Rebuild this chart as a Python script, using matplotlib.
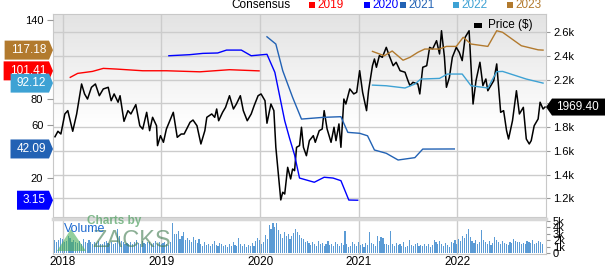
import numpy as np
import matplotlib.pyplot as plt
from matplotlib.patches import Polygon
from matplotlib.transforms import IdentityTransform
from matplotlib.ticker import FuncFormatter

plt.rcParams['font.family'] = ['Liberation Sans', 'DejaVu Sans']

# ---- price ($) ----
price_t = [2017.92, 2017.95, 2017.98, 2018.02, 2018.05, 2018.10, 2018.14, 2018.19, 2018.22, 2018.25,
           2018.29, 2018.33, 2018.37, 2018.41, 2018.46, 2018.49, 2018.52, 2018.56, 2018.58, 2018.62,
           2018.66, 2018.69, 2018.74, 2018.78, 2018.81, 2018.85, 2018.88, 2018.91, 2018.95, 2018.96,
           2018.99, 2019.02, 2019.05, 2019.10, 2019.12, 2019.16, 2019.20, 2019.23, 2019.29, 2019.32,
           2019.36, 2019.40, 2019.44, 2019.46, 2019.51, 2019.54, 2019.56, 2019.58, 2019.62, 2019.65,
           2019.69, 2019.73, 2019.76, 2019.80, 2019.83, 2019.87, 2019.91, 2019.94, 2019.98, 2020.01,
           2020.05, 2020.07, 2020.11, 2020.14, 2020.16, 2020.21, 2020.23, 2020.25, 2020.28, 2020.31,
           2020.33, 2020.35, 2020.37, 2020.40, 2020.42, 2020.44, 2020.47, 2020.50, 2020.54, 2020.56,
           2020.60, 2020.63, 2020.65, 2020.68, 2020.72, 2020.75, 2020.77, 2020.80, 2020.82, 2020.85,
           2020.87, 2020.91, 2020.95, 2020.98, 2021.01, 2021.04, 2021.08, 2021.10, 2021.14, 2021.16,
           2021.18, 2021.21, 2021.24, 2021.28, 2021.31, 2021.35, 2021.38, 2021.42, 2021.47, 2021.50,
           2021.52, 2021.55, 2021.60, 2021.62, 2021.65, 2021.69, 2021.72, 2021.75, 2021.79, 2021.82,
           2021.84, 2021.87, 2021.89, 2021.92, 2021.95, 2021.99, 2022.02, 2022.05, 2022.08, 2022.12,
           2022.16, 2022.19, 2022.23, 2022.26, 2022.29, 2022.31, 2022.35, 2022.37, 2022.40, 2022.44,
           2022.47, 2022.50, 2022.52, 2022.56, 2022.60, 2022.63, 2022.67, 2022.70, 2022.73, 2022.75,
           2022.78, 2022.82, 2022.84, 2022.87, 2022.89]
price_v = [1719, 1765, 1742, 1911, 1939, 1765, 1911, 2164, 2080, 2037,
           2136, 2164, 2065, 2122, 2136, 2023, 2080, 2010, 2065, 1849,
           1939, 1911, 1990, 1812, 1784, 1925, 1770, 1883, 1812, 1644,
           1728, 1672, 1784, 1883, 1925, 1714, 1742, 1742, 1841, 1860,
           1812, 1658, 1770, 1883, 1911, 1883, 1953, 1854, 1925, 1967,
           2065, 1953, 1995, 2065, 1939, 1854, 1911, 1981, 2065, 2080,
           2023, 1833, 1995, 1939, 1630, 1186, 1251, 1236, 1461, 1363,
           1447, 1433, 1630, 1644, 1799, 1630, 1559, 1686, 1728, 1672,
           1770, 1784, 1939, 1784, 1672, 1799, 1686, 1827, 1630, 2037,
           1995, 2122, 2080, 2094, 2276, 2094, 1939, 2107, 2318, 2375,
           2305, 2403, 2389, 2473, 2403, 2318, 2347, 2276, 2263, 2192,
           2150, 2178, 2164, 2080, 2305, 2318, 2473, 2459, 2529, 2417,
           2613, 2389, 2136, 2220, 2389, 2473, 2431, 2361, 2558, 2613,
           1995, 2192, 2347, 2150, 2206, 2107, 2164, 2192, 2333, 1925,
           1939, 1770, 1700, 1854, 2107, 1911, 1967, 1700, 1658, 1686,
           1812, 1869, 2010, 1953, 1969.40]

# ---- consensus EPS estimates ----
c2019_t = [2018.075, 2018.15, 2018.30, 2018.41, 2018.54, 2018.81, 2019.05, 2019.39, 2019.69, 2019.99]
c2019_v = [96.5, 99.5, 101.0, 103.3, 102.8, 101.5, 101.5, 100.7, 102.3, 101.41]

c2020_t = [2019.075, 2019.285, 2019.42, 2019.57, 2019.66, 2019.81, 2019.91, 2020.07, 2020.15, 2020.25,
           2020.30, 2020.35, 2020.40, 2020.55, 2020.65, 2020.74, 2020.82, 2020.90, 2020.99]
c2020_v = [112.9, 113.7, 114.7, 115.0, 117.2, 117.2, 112.9, 114.0, 100.3, 63.5,
           50.0, 37.5, 20.0, 16.8, 20.6, 20.0, 18.0, 3.3, 3.15]

c2021_t = [2020.07, 2020.16, 2020.23, 2020.33, 2020.42, 2020.64, 2020.82, 2020.89, 2021.01, 2021.09,
           2021.16, 2021.28, 2021.40, 2021.57, 2021.65, 2021.97]
c2021_v = [127.3, 121.8, 101.5, 81.3, 64.8, 66.1, 66.6, 54.7, 54.0, 52.1,
           41.3, 38.8, 33.7, 35.5, 42.0, 42.09]

c2022_t = [2021.14, 2021.28, 2021.47, 2021.57, 2021.63, 2021.82, 2021.90, 2022.05, 2022.14, 2022.31,
           2022.40, 2022.46, 2022.70, 2022.87]
c2022_v = [90.6, 90.1, 88.4, 91.4, 95.2, 95.7, 99.0, 99.0, 90.1, 88.4,
           100.8, 101.0, 95.2, 92.12]

c2023_t = [2021.14, 2021.26, 2021.34, 2021.45, 2021.52, 2021.60, 2021.67, 2021.82, 2021.89, 2021.99,
           2022.06, 2022.14, 2022.31, 2022.40, 2022.46, 2022.65, 2022.82, 2022.87]
c2023_v = [116.2, 112.9, 116.5, 109.5, 111.7, 115.5, 118.0, 118.0, 120.0, 120.0,
           126.9, 121.8, 120.0, 131.9, 130.7, 120.5, 117.4, 117.18]

# ---- weekly volume (thousands), starting 2017.92 ----
volume_k = [
    1.9, 2.1, 1.8, 2.0, 2.4, 2.2, 1.7, 1.9, 2.6, 2.3, 1.8, 2.0, 1.7,
    1.6, 1.9, 1.5, 2.2, 1.8, 1.6, 2.0, 1.7, 1.5, 1.8, 1.6, 1.9, 1.5,
    1.4, 1.7, 1.9, 1.6, 1.5, 1.8, 1.4, 1.6, 3.7, 2.6, 1.9, 1.7, 1.5,
    1.6, 1.4, 1.8, 1.5, 1.7, 2.0, 1.6, 1.4, 1.9, 1.6, 1.5, 1.8, 1.7,
    1.4, 1.6, 1.9, 1.5, 1.7, 1.4, 1.6, 1.8, 1.5, 1.3, 1.7, 4.6, 3.0,
    2.9, 3.4, 2.2, 2.6, 3.2, 2.0, 2.4, 2.1, 1.8, 2.5, 2.0, 1.6, 2.2,
    1.4, 1.2, 1.7, 1.3, 1.5, 1.1, 1.4, 1.9, 1.3, 1.2, 1.6, 1.4, 1.1,
    1.3, 1.0, 1.5, 1.2, 1.7, 1.3, 1.1, 2.3, 1.4, 1.2, 1.5, 1.0, 1.3,
    1.2, 1.6, 1.1, 1.9, 2.4, 2.0, 1.5, 1.7, 2.8, 2.2, 4.4, 3.8, 4.6,
    4.0, 4.7, 3.6, 3.0, 2.4, 3.2, 2.6, 2.9, 2.2, 2.6, 3.1, 3.7, 3.3,
    2.8, 2.4, 2.2, 1.8, 1.9, 1.6, 1.3, 1.8, 1.5, 1.2, 1.9, 1.4, 1.6,
    1.1, 1.4, 1.9, 1.3, 1.5, 1.2, 1.7, 1.4, 1.2, 1.6, 1.3, 3.4, 1.5,
    1.0, 1.2, 1.8, 1.4, 1.1, 1.7, 1.3, 1.5, 1.0, 1.6, 1.3, 3.2, 1.6,
    1.4, 1.2, 2.7, 1.9, 2.5, 2.4, 1.4, 1.5, 1.3, 3.4, 1.5, 1.2, 1.6,
    1.3, 1.5, 1.1, 1.7, 1.0, 1.2, 2.1, 1.3, 1.1, 1.4, 1.6, 1.2, 1.3,
    1.1, 1.5, 1.2, 1.4, 1.0, 1.3, 2.1, 1.7, 1.5, 1.9, 1.4, 1.2, 1.6,
    1.3, 1.0, 1.8, 1.6, 2.0, 1.4, 2.2, 1.9, 2.6, 2.3, 3.0, 3.8, 2.5,
    1.9, 1.6, 2.0, 1.5, 1.8, 3.6, 2.1, 1.7, 1.5, 1.9, 1.3, 1.6, 2.5,
    2.0, 1.7, 1.4, 1.9, 1.6, 1.5, 1.3, 1.8, 1.6, 2.2, 1.9, 1.7, 1.8,
    1.5, 1.6, 1.4, 1.9, 1.7, 1.6, 2.0, 1.5, 1.6, 1.9, 1.7, 1.5]

years = [2018, 2019, 2020, 2021, 2022]
series = [('2019', c2019_t, c2019_v, '#ff0000'),
          ('2020', c2020_t, c2020_v, '#0000ff'),
          ('2021', c2021_t, c2021_v, '#2262b4'),
          ('2022', c2022_t, c2022_v, '#3ea2d4'),
          ('2023', c2023_t, c2023_v, '#b27a2e')]

fig = plt.figure(figsize=(6.05, 2.65), dpi=100)
ax = fig.add_axes([0.0876, 0.1811, 0.8149, 0.7660])      # price (right axis)
axc = ax.twinx()                                          # consensus (left axis)
axv = fig.add_axes([0.0876, 0.0415, 0.8149, 0.1321], sharex=ax)

xlim = (2017.90, 2022.90)

# gray-to-white gradient background
grad = np.linspace(0.89, 1.0, 100)
grad = np.clip(np.concatenate([grad, np.ones(80)]), 0, 1)[:, None]
ax.imshow(np.dstack([grad] * 3), extent=[0, 1, 0, 1], transform=ax.transAxes,
          aspect='auto', zorder=0, origin='upper')

# price axis
ax.plot(price_t, price_v, color='black', lw=1.1, zorder=3)
ax.set_xlim(*xlim)
ax.set_ylim(1042, 2754)
ax.set_yticks([1200, 1400, 1600, 1800, 2000, 2200, 2400, 2600])
ax.yaxis.set_major_formatter(FuncFormatter(lambda v, p: '%.1fk' % (v / 1000)))
ax.yaxis.tick_right()
ax.set_xticks(years)
ax.tick_params(axis='x', length=0, labelbottom=False)
ax.tick_params(axis='y', length=3, pad=2, labelsize=8, color='#999999')
ax.grid(True, color='#cccccc', lw=1, zorder=1)
for s in ax.spines.values():
    s.set_color('#c8c8c8')

# consensus axis
for name, t, v, col in series:
    axc.plot(t, v, color=col, lw=1.0, zorder=2)
axc.set_ylim(-9.6, 144.6)
axc.set_yticks([20, 60, 80, 140])
axc.yaxis.tick_left()
axc.tick_params(axis='y', length=4, pad=3, labelsize=8, color='#999999')
for s in axc.spines.values():
    s.set_visible(False)

# volume panel
wk = xlim[0] + np.arange(len(volume_k)) / 52.0
axv.bar(wk, np.array(volume_k) * 1000, width=0.6 / 52, color='#5b9bd5', zorder=2)
axv.set_ylim(-100, 5260)
axv.set_yticks([0, 1000, 2000, 3000, 4000, 5000])
axv.set_yticklabels(['0', '1k', '2k', '3k', '4k', '5k'])
axv.yaxis.tick_right()
axv.tick_params(axis='y', length=3, pad=2, labelsize=8, color='#999999')
axv.set_xticks(years)
axv.set_xticklabels([str(y) for y in years])
axv.tick_params(axis='x', length=0, pad=1.5, labelsize=8.5)
axv.grid(True, axis='x', color='#cccccc', lw=1, zorder=1)
for s in axv.spines.values():
    s.set_color('#c8c8c8')
axv.spines['top'].set_color('#d8d8d8')
axv.spines['top'].set_linewidth(2.5)
axv.set_xlim(*xlim)

# watermark and "Volume"
fig.text(64 / 605, 1 - 229 / 265, 'Volume', color='#1e6ad0', fontsize=9, va='center', zorder=6)
fig.text(114 / 605, 1 - 221 / 265, 'Charts by', color='#5aa56a', alpha=0.75,
         fontsize=8.5, fontweight='bold', ha='center', va='center', zorder=5)
fig.text(92 / 605, 1 - 241 / 265, 'ZACKS', color='#3f7a4f', alpha=0.6,
         fontsize=17, ha='left', va='center', zorder=5)
fig.add_artist(Polygon([[57, 265 - 251], [71, 265 - 229], [86, 265 - 251]], closed=True,
                       transform=IdentityTransform(), facecolor='#4caf5a', alpha=0.6,
                       edgecolor='none', zorder=5))

fig.canvas.draw()
renderer = fig.canvas.get_renderer()


def left_tag(value, color, text):
    x_tip = axc.transAxes.transform((0, 0))[0]
    y = axc.transData.transform((0, value))[1]
    t = fig.text(x_tip - 7, y, text, transform=IdentityTransform(), ha='right',
                 va='center', color='white', fontsize=8.5, zorder=11)
    w = t.get_window_extent(renderer).width
    x0 = x_tip - 7 - w - 6
    poly = Polygon([[x0, y - 9.5], [x_tip - 4, y - 9.5], [x_tip, y],
                    [x_tip - 4, y + 9.5], [x0, y + 9.5]], closed=True,
                   transform=IdentityTransform(), facecolor=color, edgecolor='none', zorder=10)
    fig.add_artist(poly)


left_tag(117.18, '#b27a2e', '117.18')
left_tag(101.41, '#ff0000', '101.41')
left_tag(92.12, '#3ea2d4', '92.12')
left_tag(42.09, '#2262b4', '42.09')
left_tag(3.15, '#0000ff', '3.15')

# last price tag on the right
x_tip = ax.transAxes.transform((1, 0))[0]
y_p = ax.transData.transform((0, price_v[-1]))[1]
fig.add_artist(Polygon([[x_tip, y_p], [x_tip + 6, y_p - 8.5], [x_tip + 70, y_p - 8.5],
                        [x_tip + 70, y_p + 8.5], [x_tip + 6, y_p + 8.5]], closed=True,
                       transform=IdentityTransform(), facecolor='black', edgecolor='none', zorder=10))
fig.text(x_tip + 10, y_p, '1969.40', transform=IdentityTransform(), color='white',
         fontsize=8.5, va='center', ha='left', zorder=11)

# legend in the top strip
fig.text(231 / 605, 1 - 5 / 265, 'Consensus', fontsize=8.5, va='center')
leg = [('2019', 309, '#ff0000'), ('2020', 364, '#0000ff'), ('2021', 400, '#2262b4'),
       ('2022', 453, '#3ea2d4'), ('2023', 507, '#b27a2e')]
for name, xp, col in leg:
    fig.add_artist(Polygon([[xp, 265 - 2], [xp + 6, 265 - 2], [xp + 6, 265 - 8], [xp, 265 - 8]],
                           closed=True, transform=IdentityTransform(), facecolor=col, edgecolor='none'))
    fig.text((xp + 8) / 605, 1 - 5 / 265, name, color=col, fontsize=8.5, va='center')

# price legend inside the plot
ax.add_artist(Polygon([[474, 265 - 22.5], [482, 265 - 22.5], [482, 265 - 27.5], [474, 265 - 27.5]],
                      closed=True, transform=IdentityTransform(), facecolor='black', zorder=6))
fig.text(488 / 605, 1 - 25 / 265, 'Price ($)', fontsize=8.5, va='center', zorder=6)

fig.savefig('out.png', dpi=100)
